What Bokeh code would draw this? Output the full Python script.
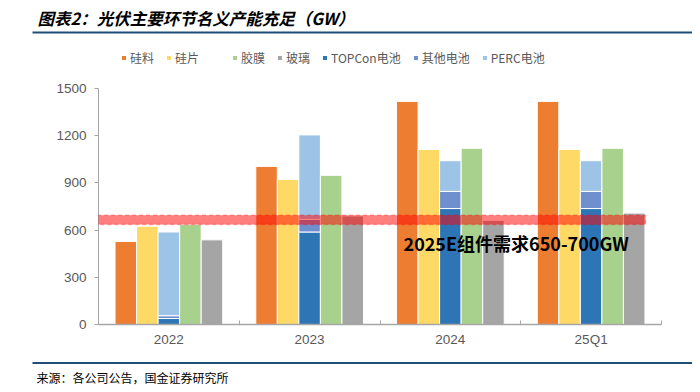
from bokeh.plotting import figure
from bokeh.models import (Legend, LegendItem, FixedTicker, ColumnDataSource,
                          BoxAnnotation, Label)
from bokeh.core.properties import value
from bokeh.layouts import column
from bokeh.transform import dodge
from bokeh.embed import file_html
from bokeh.resources import INLINE

# ---------------- data ----------------
categories = ["2022", "2023", "2024", "25Q1"]
silicon = [528, 1005, 1418, 1418]      # 硅料
wafer = [625, 922, 1113, 1113]         # 硅片
film = [635, 948, 1120, 1120]          # 胶膜
glass = [538, 690, 662, 708]           # 玻璃
topcon_cell = [38, 588, 737, 737]      # TOPCon电池
other_cell = [18, 80, 109, 109]        # 其他电池
perc_cell = [532, 537, 195, 195]       # PERC电池
demand_low = 635
demand_high = 695
demand_text = "2025E组件需求650-700GW"
title_text = "图表2：光伏主要环节名义产能充足（GW）"
source_text = "来源：各公司公告，国金证券研究所"
y_ticks = [0, 300, 600, 900, 1200, 1500]

# ---------------- styles ----------------
C_SILICON = "#ED7D31"
C_WAFER = "#FFD966"
C_FILM = "#A9D18E"
C_GLASS = "#A5A5A5"
C_TOPCON = "#2E75B6"
C_OTHER = "#6F8FCF"
C_PERC = "#9DC3E6"
AX = "#A6A6A6"
TXT = "#595959"
RULE = "#1F4E79"
CJK = "Noto Sans CJK SC"
NUM = "Liberation Sans"
W_TOTAL = 692
HEAD_H = 70
MAIN_H = 286
FOOT_H = 30


def bare(width, height):
    fig = figure(width=width, height=height, x_range=(0, width),
                 y_range=(0, height), output_backend="svg",
                 toolbar_location=None, x_axis_location=None,
                 y_axis_location=None, min_border_left=0, min_border_right=0,
                 min_border_top=0, min_border_bottom=0)
    fig.grid.visible = False
    fig.outline_line_color = None
    fig.frame_align = False
    return fig


# ---------------- header (title, rule, legend) ----------------
head = bare(W_TOTAL, HEAD_H)
head.text(x=[37], y=[HEAD_H - 17], text=[title_text], text_font=value(CJK),
          text_font_style="bold italic", text_font_size="16.5px",
          text_baseline="middle", text_color="#000000")
head.segment(x0=[32], x1=[W_TOTAL], y0=[HEAD_H - 32], y1=[HEAD_H - 32],
             line_color=RULE, line_width=2)


def swatch(color, alpha=1.0):
    # bar placed below the visible area, used only as a legend swatch
    return head.vbar(x=[W_TOTAL / 2], bottom=[-60], top=[-50], width=1,
                     fill_color=color, fill_alpha=alpha, line_alpha=0)


legend = Legend(items=[
    LegendItem(label="硅料", renderers=[swatch(C_SILICON)]),
    LegendItem(label="硅片", renderers=[swatch(C_WAFER)]),
    LegendItem(label="", renderers=[swatch("#FFFFFF", 0)]),
    LegendItem(label="胶膜", renderers=[swatch(C_FILM)]),
    LegendItem(label="玻璃", renderers=[swatch(C_GLASS)]),
    LegendItem(label="TOPCon电池", renderers=[swatch(C_TOPCON)]),
    LegendItem(label="其他电池", renderers=[swatch(C_OTHER)]),
    LegendItem(label="PERC电池", renderers=[swatch(C_PERC)]),
], orientation="horizontal", location=(121, HEAD_H - 66),
    label_text_font=CJK, label_text_font_size="12px", label_text_color=TXT,
    glyph_width=5, glyph_height=5, label_standoff=4, spacing=12,
    padding=0, margin=0, border_line_alpha=0, background_fill_alpha=0,
    label_height=14, label_width=0)
head.add_layout(legend, "center")

# ---------------- main chart ----------------
src = ColumnDataSource(dict(
    x=list(range(len(categories))),
    silicon=silicon, wafer=wafer, film=film, glass=glass,
    topcon=topcon_cell, other=other_cell, perc=perc_cell,
))

p = figure(width=W_TOTAL, height=MAIN_H, x_range=(-0.5, 3.5), y_range=(0, 1500),
           output_backend="svg", toolbar_location=None,
           min_border_left=98, min_border_right=31,
           min_border_top=18, min_border_bottom=32)
p.outline_line_color = None
p.xgrid.visible = False
p.ygrid.visible = False
p.frame_align = False

W = 0.153
p.vbar(x=dodge("x", -2 * W, range=p.x_range), top="silicon", width=W,
       fill_color=C_SILICON, line_color="white", line_width=1, source=src)
p.vbar(x=dodge("x", -W, range=p.x_range), top="wafer", width=W,
       fill_color=C_WAFER, line_color="white", line_width=1, source=src)
p.vbar_stack(["topcon", "other", "perc"], x="x", width=W,
             fill_color=[C_TOPCON, C_OTHER, C_PERC],
             line_color="white", line_width=1, source=src)
p.vbar(x=dodge("x", W, range=p.x_range), top="film", width=W,
       fill_color=C_FILM, line_color="white", line_width=1, source=src)
p.vbar(x=dodge("x", 2 * W, range=p.x_range), top="glass", width=W,
       fill_color=C_GLASS, line_color="white", line_width=1, source=src)

band = BoxAnnotation(left=-0.51, right=3.386, bottom=demand_low, top=demand_high,
                     fill_color="#FF0000", fill_alpha=0.5,
                     line_color="#FF0000", line_dash="4 3", line_width=1.5)
p.add_layout(band)

p.add_layout(Label(x=1.667, y=516, text=demand_text, text_font=CJK,
                   text_font_style="bold", text_font_size="18px",
                   text_baseline="middle", text_color="#000000"))

p.yaxis.ticker = FixedTicker(ticks=y_ticks)
p.yaxis.axis_line_color = AX
p.yaxis.major_tick_line_color = AX
p.yaxis.major_tick_out = 4
p.yaxis.major_tick_in = 0
p.yaxis.minor_tick_line_color = None
p.yaxis.major_label_text_font = NUM
p.yaxis.major_label_text_font_size = "13.5px"
p.yaxis.major_label_text_color = TXT
p.yaxis.major_label_standoff = 8

p.xaxis.ticker = FixedTicker(ticks=list(range(len(categories))),
                             minor_ticks=[i - 0.5 for i in range(len(categories) + 1)])
p.xaxis.major_label_overrides = {i: c for i, c in enumerate(categories)}
p.xaxis.axis_line_color = AX
p.xaxis.axis_line_width = 1.5
p.xaxis.major_tick_line_color = None
p.xaxis.major_tick_in = 0
p.xaxis.major_tick_out = 0
p.xaxis.minor_tick_line_color = AX
p.xaxis.minor_tick_in = 4
p.xaxis.minor_tick_out = 0
p.xaxis.major_label_text_font = NUM
p.xaxis.major_label_text_font_size = "13.5px"
p.xaxis.major_label_text_color = TXT
p.xaxis.major_label_standoff = 7

# ---------------- footer (rule, source) ----------------
foot = bare(W_TOTAL, FOOT_H)
foot.segment(x0=[32], x1=[W_TOTAL], y0=[FOOT_H - 6.5], y1=[FOOT_H - 6.5],
             line_color=RULE, line_width=2)
foot.text(x=[36], y=[FOOT_H - 21], text=[source_text], text_font=value(CJK),
          text_font_size="12px", text_baseline="middle", text_color="#000000")

layout = column(head, p, foot, spacing=0)
open("out.html", "w").write(file_html(layout, INLINE))
